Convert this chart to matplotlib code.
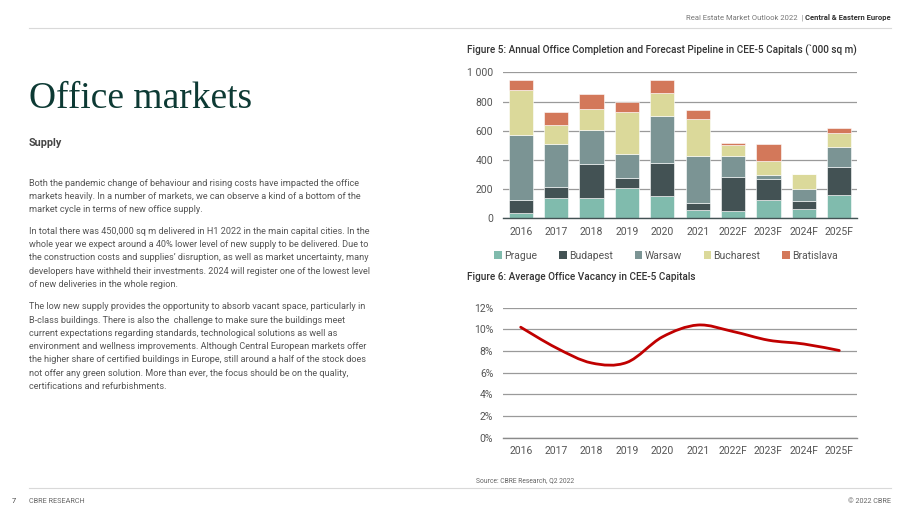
import matplotlib
matplotlib.use("Agg")
import matplotlib.pyplot as plt
from matplotlib.path import Path
from matplotlib.patches import PathPatch, Patch
import numpy as np

# ---------------- data ----------------
years = ["2016", "2017", "2018", "2019", "2020", "2021", "2022F", "2023F", "2024F", "2025F"]
cities = ["Prague", "Budapest", "Warsaw", "Bucharest", "Bratislava"]
prague     = [35, 137, 137, 205, 153, 57, 52, 125, 66, 158]
budapest   = [90, 80, 233, 69, 228, 46, 231, 142, 53, 196]
warsaw     = [445, 292, 233, 164, 320, 326, 146, 30, 84, 132]
bucharest  = [310, 128, 146, 293, 160, 249, 71, 96, 101, 96]
bratislava = [65, 93, 103, 64, 89, 62, 14, 114, 0, 34]
vacancy = [10.2, 8.3, 6.9, 6.95, 9.3, 10.4, 9.8, 9.0, 8.65, 8.05]

bar_ticks = [0, 200, 400, 600, 800, 1000]
bar_ticklabels = ["0", "200", "400", "600", "800", "1 000"]
vac_ticks = [0, 2, 4, 6, 8, 10, 12]
vac_ticklabels = ["0%", "2%", "4%", "6%", "8%", "10%", "12%"]

colors = ["#80BBAD", "#435254", "#7B9494", "#DBD99A", "#D3785A"]

W, H = 920, 518
fig = plt.figure(figsize=(W / 100, H / 100), dpi=100)
fig.patch.set_facecolor("white")

SANS = ["Roboto", "DejaVu Sans"]
plt.rcParams["font.family"] = SANS


def fx(x):
    return x / W


def fy(y):
    return 1 - y / H


def ftext(x, y, s, **kw):
    kw.setdefault("va", "baseline")
    return fig.text(fx(x), fy(y), s, **kw)


# ---------------- page furniture ----------------
line_col = "#d9d9d9"
fig.add_artist(plt.Line2D([fx(29), fx(891)], [fy(28.3), fy(28.3)], color=line_col, lw=0.8))
fig.add_artist(plt.Line2D([fx(29), fx(891)], [fy(488.3), fy(488.3)], color=line_col, lw=0.8))

renderer = fig.canvas.get_renderer()
hb = ftext(890.7, 19.8, "Central & Eastern Europe", ha="right", fontsize=5.5,
           fontweight="bold", color="#333333")
bw = hb.get_window_extent(renderer).width
ftext(890.7 - bw - 2, 19.8, "Real Estate Market Outlook 2022  |", ha="right", fontsize=5.5,
      color="#777777")

ftext(29, 107.5, "Office markets", fontsize=27, family=["Liberation Serif", "DejaVu Serif"],
      color="#0d3a34")
ftext(29, 146, "Supply", fontsize=7.8, fontweight="bold", color="#444444")

paras = [
    ["Both the pandemic change of behaviour and rising costs have impacted the office",
     "markets heavily. In a number of markets, we can observe a kind of a bottom of the",
     "market cycle in terms of new office supply."],
    ["In total there was 450,000 sq m delivered in H1 2022 in the main capital cities. In the",
     "whole year we expect around a 40% lower level of new supply to be delivered. Due to",
     "the construction costs and supplies\u2019 disruption, as well as market uncertainty, many",
     "developers have withheld their investments. 2024 will register one of the lowest level",
     "of new deliveries in the whole region."],
    ["The low new supply provides the opportunity to absorb vacant space, particularly in",
     "B-class buildings. There is also the  challenge to make sure the buildings meet",
     "current expectations regarding standards, technological solutions as well as",
     "environment and wellness improvements. Although Central European markets offer",
     "the higher share of certified buildings in Europe, still around a half of the stock does",
     "not offer any green solution. More than ever, the focus should be on the quality,",
     "certifications and refurbishments."],
]
starts = [185.5, 233.8, 309.3]
for p, y0 in zip(paras, starts):
    for i, ln in enumerate(p):
        ftext(29, y0 + i * 13.3, ln, fontsize=6.6, color="#555555")

ftext(12, 503.3, "7", fontsize=5.4, color="#444444")
ftext(29, 503.3, "CBRE RESEARCH", fontsize=5.2, color="#666666")
ftext(890.7, 503.3, "\u00a9 2022 CBRE", ha="right", fontsize=5.2, color="#666666")

# ---------------- Figure 5: stacked bars ----------------
ftext(467, 53, "Figure 5: Annual Office Completion and Forecast Pipeline in CEE-5 Capitals (`000 sq m)",
      fontsize=7.2, fontweight="medium", color="#333333")

ax1 = fig.add_axes([fx(503), fy(218.3), (857 - 503) / W, (218.3 - 72.3) / H])
x = np.arange(len(years))
bottom = np.zeros(len(years))
series = [prague, budapest, warsaw, bucharest, bratislava]
for name, vals, c in zip(cities, series, colors):
    ax1.bar(x, vals, bottom=bottom, width=0.68, color=c, edgecolor="white", linewidth=0.4,
            label=name, zorder=3)
    bottom += np.array(vals)
ax1.set_xlim(-0.5, len(years) - 0.5)
ax1.set_ylim(0, 1000)
ax1.set_yticks(bar_ticks)
ax1.set_yticklabels(bar_ticklabels)
ax1.set_xticks(x)
ax1.set_xticklabels(years)
for sp in ["top", "right", "left"]:
    ax1.spines[sp].set_visible(False)
ax1.spines["bottom"].set_color("#435254")
ax1.spines["bottom"].set_linewidth(1.0)
ax1.spines["bottom"].set_zorder(4)
ax1.yaxis.grid(True, color="#9a9a9a", lw=0.9, zorder=0)
ax1.tick_params(axis="both", length=0, labelsize=7.5, labelcolor="#555555")
ax1.tick_params(axis="y", pad=7)
ax1.tick_params(axis="x", pad=6)
ax1.set_facecolor("none")

handles = [Patch(facecolor=c, edgecolor="none") for c in colors]
fig.legend(handles, cities, loc="center left", bbox_to_anchor=(fx(489), fy(255.7)),
           ncol=5, frameon=False, fontsize=7.5, handlelength=0.75, handleheight=0.75,
           handletextpad=0.2, columnspacing=2.1, borderpad=0, labelcolor="#555555")

# ---------------- Figure 6: vacancy line ----------------
ftext(467, 280, "Figure 6: Average Office Vacancy in CEE-5 Capitals",
      fontsize=7.2, fontweight="medium", color="#333333")

ax2 = fig.add_axes([fx(503), fy(437.7), (857 - 503) / W, (437.7 - 307.7) / H])
xv = np.arange(len(vacancy), dtype=float)
yv = np.array(vacancy)
# smooth (Catmull-Rom style Bezier) through the data points
P = np.column_stack([xv, yv])
Pext = np.vstack([P[0], P, P[-1]])
verts = [tuple(P[0])]
codes = [Path.MOVETO]
for i in range(len(P) - 1):
    p0, p1, p2, p3 = Pext[i], Pext[i + 1], Pext[i + 2], Pext[i + 3]
    c1 = p1 + (p2 - p0) / 6.0
    c2 = p2 - (p3 - p1) / 6.0
    verts += [tuple(c1), tuple(c2), tuple(p2)]
    codes += [Path.CURVE4] * 3
ax2.add_patch(PathPatch(Path(verts, codes), facecolor="none", edgecolor="#C00000",
                        lw=2.0, capstyle="round", zorder=3))
ax2.set_xlim(-0.5, len(years) - 0.5)
ax2.set_ylim(0, 12)
ax2.set_yticks(vac_ticks)
ax2.set_yticklabels(vac_ticklabels)
ax2.set_xticks(xv)
ax2.set_xticklabels(years)
for sp in ["top", "right", "left"]:
    ax2.spines[sp].set_visible(False)
ax2.spines["bottom"].set_color("#8a8a8a")
ax2.spines["bottom"].set_linewidth(1.0)
ax2.yaxis.grid(True, color="#9a9a9a", lw=0.9, zorder=0)
ax2.tick_params(axis="both", length=0, labelsize=7.5, labelcolor="#555555")
ax2.tick_params(axis="y", pad=7)
ax2.tick_params(axis="x", pad=6)
ax2.set_facecolor("none")

ftext(476, 482.3, "Source: CBRE Research, Q2 2022", fontsize=4.9, color="#666666")

fig.savefig("out.png", dpi=100, facecolor="white")
